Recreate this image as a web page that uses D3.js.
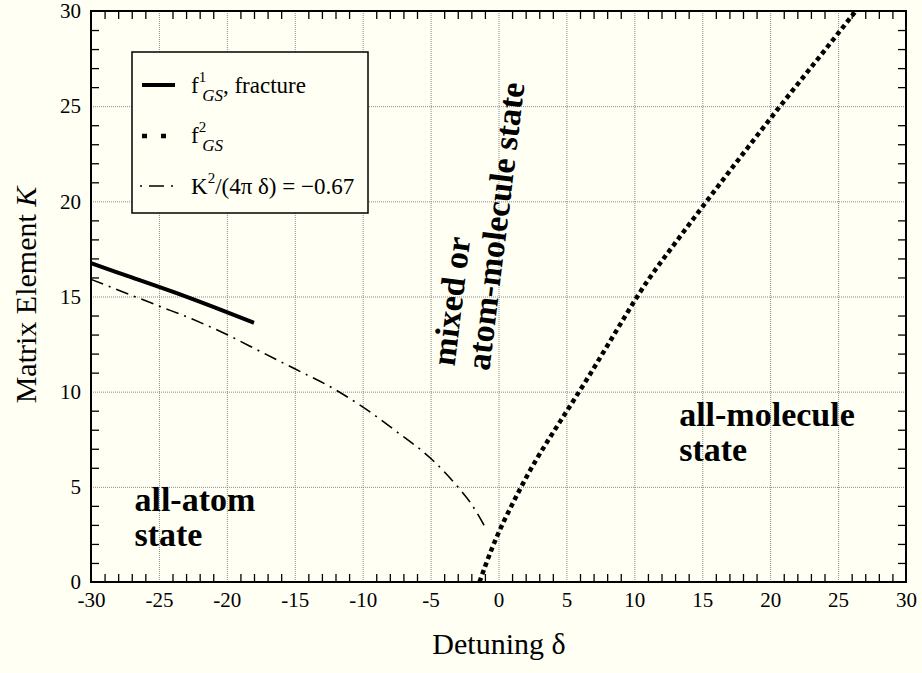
<!doctype html>
<html lang="en">
  <head>
    <meta charset="utf-8">
    <title>Matrix Element K vs Detuning</title>
    <script src="https://cdn.jsdelivr.net/npm/d3@7"></script>
    <style>
      body { margin: 0; background: #fffff3; }
      svg { display: block; }
      svg text { font-family: "Liberation Serif", "DejaVu Serif", serif !important; }
    </style>
  </head>
  <body>
    <script>
      // f1_GS, fracture (solid)
      const fracDelta = [-30, -27, -24, -21, -18];
      const fracK = [16.75, 16.0, 15.25, 14.45, 13.62];

      // f2_GS (thick dotted)
      const gsDelta = [-1.4, -0.5, 0.4, 1.0, 1.6, 2.8, 3.75, 5.0, 6.6, 8.0, 11.0, 13.0, 15.0, 18.0, 21.1, 24.0, 26.3];
      const gsK = [0, 1.73, 3.2, 4.06, 4.9, 6.45, 7.55, 8.95, 10.75, 12.4, 15.85, 17.8, 19.7, 22.5, 25.33, 27.92, 30];

      // K^2/(4 pi delta) = -0.67 (dash-dot)
      const fitDelta = [-30, -27.5, -25, -22.5, -20, -17.5, -15, -12.5, -10, -7.5, -5, -4, -3, -2, -1];
      const fitK = [15.9, 15.2, 14.5, 13.8, 13.0, 12.1, 11.2, 10.3, 9.2, 7.9, 6.5, 5.8, 5.0, 4.1, 2.9];

      const xTicks = [-30, -25, -20, -15, -10, -5, 0, 5, 10, 15, 20, 25, 30];
      const yTicks = [0, 5, 10, 15, 20, 25, 30];

      const w = 922;
      const h = 673;
      const plotL = 91, plotR = 906, plotT = 11, plotB = 582;

      const xScale = d3.scaleLinear().domain([-30, 30]).range([plotL, plotR]);
      const yScale = d3.scaleLinear().domain([0, 30]).range([plotB, plotT]);

      const svg = d3.select("body")
                    .append("svg")
                    .attr("width", w)
                    .attr("height", h);

      svg.append("rect")
         .attr("width", w)
         .attr("height", h)
         .attr("fill", "#fffff3");

      // grid lines at major ticks
      const inner = (v, lo, hi) => v > lo && v < hi;
      const gridX = d3.axisBottom(xScale)
                      .tickValues(xTicks.filter((d) => inner(d, -30, 30)))
                      .tickSize(-(plotB - plotT))
                      .tickFormat("");
      const gridY = d3.axisLeft(yScale)
                      .tickValues(yTicks.filter((d) => inner(d, 0, 30)))
                      .tickSize(-(plotR - plotL))
                      .tickFormat("");
      svg.append("g")
         .attr("class", "grid")
         .attr("transform", "translate(0, " + plotB + ")")
         .call(gridX);
      svg.append("g")
         .attr("class", "grid")
         .attr("transform", "translate(" + plotL + ", 0)")
         .call(gridY);
      svg.selectAll(".grid .domain").remove();
      svg.selectAll(".grid line")
         .attr("stroke", "#8a8a8a")
         .attr("stroke-width", 1)
         .attr("stroke-dasharray", "1,1");

      // minor ticks, inward on all four sides
      const minorX = d3.range(-29, 30).filter((d) => d % 5 !== 0);
      const minorY = d3.range(1, 30).filter((d) => d % 5 !== 0);
      const tick = 8;
      svg.append("g").attr("class", "minor")
         .attr("transform", "translate(0, " + plotB + ")")
         .call(d3.axisBottom(xScale).tickValues(minorX).tickSize(-tick).tickFormat(""));
      svg.append("g").attr("class", "minor")
         .attr("transform", "translate(0, " + plotT + ")")
         .call(d3.axisTop(xScale).tickValues(minorX).tickSize(-tick).tickFormat(""));
      svg.append("g").attr("class", "minor")
         .attr("transform", "translate(" + plotL + ", 0)")
         .call(d3.axisLeft(yScale).tickValues(minorY).tickSize(-tick).tickFormat(""));
      svg.append("g").attr("class", "minor")
         .attr("transform", "translate(" + plotR + ", 0)")
         .call(d3.axisRight(yScale).tickValues(minorY).tickSize(-tick).tickFormat(""));
      svg.selectAll(".minor .domain").remove();
      svg.selectAll(".minor line").attr("stroke", "#000").attr("stroke-width", 1.3);

      // tick labels
      const xAxis = svg.append("g")
                       .attr("transform", "translate(0, " + plotB + ")")
                       .call(d3.axisBottom(xScale).tickValues(xTicks).tickSize(0).tickPadding(10)
                               .tickFormat((d) => String(d)));
      const yAxis = svg.append("g")
                       .attr("transform", "translate(" + plotL + ", 0)")
                       .call(d3.axisLeft(yScale).tickValues(yTicks).tickSize(0).tickPadding(10));
      [xAxis, yAxis].forEach((g) => {
        g.select(".domain").remove();
        g.attr("font-family", null).attr("font-size", 21);
        g.selectAll("text").attr("fill", "#000");
      });

      // frame
      svg.append("rect")
         .attr("x", plotL)
         .attr("y", plotT)
         .attr("width", plotR - plotL)
         .attr("height", plotB - plotT)
         .attr("fill", "none")
         .attr("stroke", "#000")
         .attr("stroke-width", 2);

      const line = d3.line()
                     .x((d) => xScale(d[0]))
                     .y((d) => yScale(d[1]))
                     .curve(d3.curveMonotoneX);

      svg.append("path")
         .datum(fitDelta.map((d, i) => [d, fitK[i]]))
         .attr("d", line)
         .attr("fill", "none")
         .attr("stroke", "#000")
         .attr("stroke-width", 1.6)
         .attr("stroke-dasharray", "13,6,2,6");

      svg.append("path")
         .datum(fracDelta.map((d, i) => [d, fracK[i]]))
         .attr("d", line)
         .attr("fill", "none")
         .attr("stroke", "#000")
         .attr("stroke-width", 4);

      svg.append("path")
         .datum(gsDelta.map((d, i) => [d, gsK[i]]))
         .attr("d", line)
         .attr("fill", "none")
         .attr("stroke", "#000")
         .attr("stroke-width", 4.5)
         .attr("stroke-dasharray", "4.5,3.6");

      // legend
      const legend = svg.append("g");
      legend.append("rect")
            .attr("x", 132)
            .attr("y", 52)
            .attr("width", 236)
            .attr("height", 161)
            .attr("fill", "#fffff3")
            .attr("stroke", "#000")
            .attr("stroke-width", 1.5);

      legend.append("line")
            .attr("x1", 142).attr("x2", 175).attr("y1", 85).attr("y2", 85)
            .attr("stroke", "#000").attr("stroke-width", 4);
      legend.append("line")
            .attr("x1", 142).attr("x2", 175).attr("y1", 136).attr("y2", 136)
            .attr("stroke", "#000").attr("stroke-width", 4.5)
            .attr("stroke-dasharray", "5,14");
      legend.append("line")
            .attr("x1", 140).attr("x2", 177).attr("y1", 186).attr("y2", 186)
            .attr("stroke", "#000").attr("stroke-width", 1.6)
            .attr("stroke-dasharray", "2,7,15,7,2,100");

      const t1 = legend.append("text").attr("x", 191).attr("y", 93).attr("font-size", 23);
      t1.append("tspan").text("f");
      t1.append("tspan").attr("font-size", 15).attr("dy", -11).text("1");
      t1.append("tspan").attr("font-size", 17).attr("font-style", "italic").attr("dy", 19).attr("dx", -4).text("GS");
      t1.append("tspan").attr("dy", -8).text(", fracture");

      const t2 = legend.append("text").attr("x", 191).attr("y", 143).attr("font-size", 23);
      t2.append("tspan").text("f");
      t2.append("tspan").attr("font-size", 15).attr("dy", -11).text("2");
      t2.append("tspan").attr("font-size", 17).attr("font-style", "italic").attr("dy", 19).attr("dx", -4).text("GS");

      const t3 = legend.append("text").attr("x", 191).attr("y", 194).attr("font-size", 23);
      t3.append("tspan").text("K");
      t3.append("tspan").attr("font-size", 15).attr("dy", -11).text("2");
      t3.append("tspan").attr("dy", 11).text("/(4\u03c0 \u03b4) = \u22120.67");

      // region labels
      const labels = svg.append("g")
                        .attr("font-size", 34)
                        .attr("font-weight", "bold");
      const atom = labels.append("text")
                         .attr("x", xScale(-26.8))
                         .attr("y", yScale(3.73));
      atom.append("tspan").text("all-atom");
      atom.append("tspan").attr("x", xScale(-26.8)).attr("dy", 35).text("state");

      const mol = labels.append("text")
                        .attr("x", xScale(13.3))
                        .attr("y", yScale(8.2));
      mol.append("tspan").text("all-molecule");
      mol.append("tspan").attr("x", xScale(13.3)).attr("dy", 35).text("state");

      labels.append("text")
            .attr("transform", "translate(" + xScale(-3.5) + "," + yScale(14.76) + ") rotate(-83)")
            .attr("text-anchor", "middle")
            .attr("dominant-baseline", "central")
            .text("mixed or");
      labels.append("text")
            .attr("transform", "translate(" + xScale(-0.22) + "," + yScale(18.7) + ") rotate(-83)")
            .attr("text-anchor", "middle")
            .attr("dominant-baseline", "central")
            .text("atom-molecule state");

      // axis titles
      const yTitle = svg.append("text")
                        .attr("transform", "translate(36, 295) rotate(-90)")
                        .attr("text-anchor", "middle")
                        .attr("font-size", 30);
      yTitle.append("tspan").text("Matrix Element ");
      yTitle.append("tspan").attr("font-style", "italic").text("K");

      svg.append("text")
         .attr("x", 499)
         .attr("y", 654)
         .attr("text-anchor", "middle")
         .attr("font-size", 30)
         .text("Detuning \u03b4");
    </script>
  </body>
</html>
